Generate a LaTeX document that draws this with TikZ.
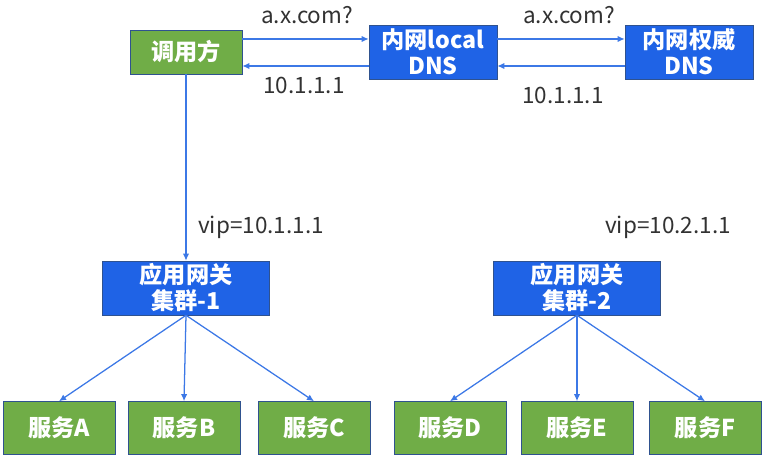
\documentclass[tikz,border=0pt]{standalone}
\usepackage{fontspec}
\setmainfont{Noto Sans CJK SC}
\usetikzlibrary{arrows.meta}

\definecolor{boxblue}{RGB}{31,99,230}
\definecolor{boxgreen}{RGB}{112,173,71}
\definecolor{edgeblue}{RGB}{47,82,143}
\definecolor{linkblue}{RGB}{60,120,230}
\definecolor{labelgray}{RGB}{50,50,50}

\tikzset{
    dnsbox/.style={draw=edgeblue, fill=boxblue, text=white, font=\fontsize{16.5}{18.5}\selectfont\bfseries,
        align=center, inner sep=0pt, minimum width=128*0.025cm, minimum height=54*0.025cm},
    callbox/.style={draw=edgeblue, fill=boxgreen, text=white, font=\fontsize{16.5}{18.5}\selectfont\bfseries,
        inner sep=0pt, minimum width=112*0.025cm, minimum height=44*0.025cm},
    gwbox/.style={dnsbox, minimum width=167*0.025cm},
    svcbox/.style={callbox, minimum height=53*0.025cm},
    link/.style={linkblue, line width=0.9pt, -{Latex[length=5pt,width=4.5pt]}},
    tag/.style={text=labelgray, font=\fontsize{16}{18}\selectfont, inner sep=0pt}
}

\begin{document}
\begin{tikzpicture}[x=0.025cm, y=-0.025cm]
    \useasboundingbox (0, 0) rectangle (769, 464);

    % top row
    \node[callbox] (caller) at (186, 52) {调用方};
    \node[dnsbox] (localdns) at (433, 52) {内网local\\DNS};
    \node[dnsbox] (authdns) at (689, 52) {内网权威\\DNS};

    % gateways
    \node[gwbox] (gwone) at (186, 288) {应用网关\\集群-1};
    \node[gwbox] (gwtwo) at (577, 288) {应用网关\\集群-2};

    % services
    \foreach \name/\x/\txt in {svca/59/A, svcb/184/B, svcc/314/C,
                               svcd/450/D, svce/577/E, svcf/705/F} {
        \node[svcbox] (\name) at (\x, 428) {服务\txt};
    }

    % dns query and answer
    \draw[link] ([yshift=0.325cm]caller.east) -- ([yshift=0.325cm]localdns.west);
    \draw[link] ([yshift=-0.35cm]localdns.west) -- ([yshift=-0.35cm]caller.east);
    \draw[link] ([yshift=0.325cm]localdns.east) -- ([yshift=0.325cm]authdns.west);
    \draw[link] ([yshift=-0.35cm]authdns.west) -- ([yshift=-0.35cm]localdns.east);

    % labels for dns
    \node[tag] (qone) at (307, 15) {a.x.com?};
    \node[tag] (qtwo) at (569, 15) {a.x.com?};
    \node[tag] (aone) at (304, 85) {10.1.1.1};
    \node[tag] (atwo) at (563, 95) {10.1.1.1};

    % caller to gateway
    \draw[link] (caller.south) -- (gwone.north);
    \node[tag] (vipone) at (261, 227) {vip=10.1.1.1};
    \node[tag] (viptwo) at (668, 227) {vip=10.2.1.1};

    % gateways to services
    \foreach \s in {svca, svcb, svcc} {
        \draw[link] (gwone.south) -- (\s.north);
    }
    \foreach \s in {svcd, svce, svcf} {
        \draw[link] (gwtwo.south) -- (\s.north);
    }
\end{tikzpicture}
\end{document}
